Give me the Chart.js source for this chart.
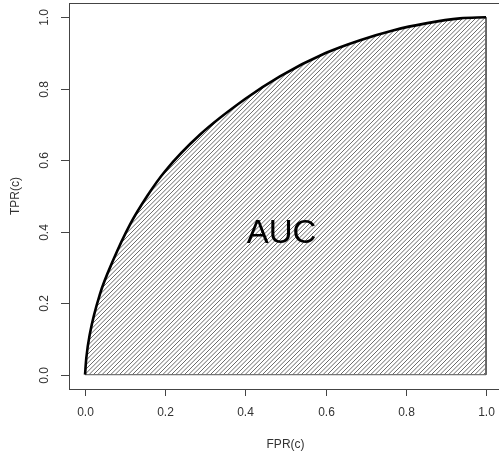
<!DOCTYPE html>
<html>
<head>
<meta charset="utf-8">
<script src="https://cdn.jsdelivr.net/npm/chart.js@4.4.1/dist/chart.umd.min.js"></script>
<style>
  body { margin: 0; background: #fff; }
  #wrap { width: 499px; height: 459px; }
</style>
</head>
<body>
<div id="wrap"><canvas id="myChart" width="499" height="459"></canvas></div>
<script>
// ROC curve, values
const fprValues = [0, 0.003, 0.0125, 0.037, 0.07, 0.112, 0.155, 0.2, 0.287, 0.4, 0.486, 0.6, 0.686, 0.77, 0.85, 0.935, 1];
const tprValues = [0, 0.045, 0.117, 0.225, 0.32, 0.42, 0.5, 0.57, 0.672, 0.772, 0.835, 0.9, 0.936, 0.964, 0.983, 0.997, 1];

// polygon edge that closes the shaded area
const borderX = [1, 1, 0];
const borderY = [1, 0, 0];

const xTicks = [0, 0.2, 0.4, 0.6, 0.8, 1];
const yTicks = [0, 0.2, 0.4, 0.6, 0.8, 1];
const tickLabels = ["0.0", "0.2", "0.4", "0.6", "0.8", "1.0"];

const FONT = '"Liberation Sans", Arial, sans-serif';

// diagonal hatching like R's density/angle polygon fill
function makeHatch() {
    const T = 13;
    const c = document.createElement('canvas');
    c.width = T;
    c.height = T;
    const g = c.getContext('2d');
    g.strokeStyle = '#6a6a6a';
    g.lineWidth = 1;
    for (let k = -2; k <= 8; k++) {
        const off = k * T / 3;
        g.beginPath();
        g.moveTo(off - T, T);
        g.lineTo(off + T, -T);
        g.stroke();
    }
    return g.createPattern(c, 'repeat');
}

// axes drawn R style: box, outside ticks, rotated y labels
const rAxes = {
    id: 'rAxes',
    afterDraw(chart) {
        const ctx = chart.ctx;
        const xs = chart.scales.x;
        const ys = chart.scales.y;
        const left = xs.getPixelForValue(-0.04);
        const right = xs.getPixelForValue(1.04);
        const top = ys.getPixelForValue(1.04);
        const bottom = ys.getPixelForValue(-0.04);

        ctx.save();
        ctx.strokeStyle = '#444';
        ctx.lineWidth = 1;
        ctx.strokeRect(Math.round(left) + 0.5, Math.round(top) + 0.5,
            Math.round(right - left), Math.round(bottom - top));

        ctx.fillStyle = '#333';
        ctx.font = '12px ' + FONT;
        ctx.textAlign = 'center';
        ctx.textBaseline = 'middle';

        xTicks.forEach((v, i) => {
            const px = Math.round(xs.getPixelForValue(v)) + 0.5;
            ctx.beginPath();
            ctx.moveTo(px, Math.round(bottom));
            ctx.lineTo(px, Math.round(bottom) + 7);
            ctx.stroke();
            ctx.fillText(tickLabels[i], px, bottom + 24);
        });

        yTicks.forEach((v, i) => {
            const py = Math.round(ys.getPixelForValue(v)) + 0.5;
            ctx.beginPath();
            ctx.moveTo(Math.round(left), py);
            ctx.lineTo(Math.round(left) - 8, py);
            ctx.stroke();
            ctx.save();
            ctx.translate(left - 24, py);
            ctx.rotate(-Math.PI / 2);
            ctx.fillText(tickLabels[i], 0, 0);
            ctx.restore();
        });

        ctx.fillText('FPR(c)', xs.getPixelForValue(0.5), 445);
        ctx.save();
        ctx.translate(16, (top + bottom) / 2);
        ctx.rotate(-Math.PI / 2);
        ctx.fillText('TPR(c)', 0, 0);
        ctx.restore();

        // label inside the shaded area
        ctx.fillStyle = '#000';
        ctx.font = '33px ' + FONT;
        ctx.fillText('AUC', xs.getPixelForValue(0.49), ys.getPixelForValue(0.395));
        ctx.restore();
    }
};

window.addEventListener("load", () => {
    const ctx = document.getElementById('myChart');
    new Chart(ctx, {
        type: 'scatter',
        data: {
            datasets: [{
                label: 'ROC',
                data: fprValues.map((x, i) => ({ x: x, y: tprValues[i] })),
                showLine: true,
                fill: 'origin',
                backgroundColor: makeHatch(),
                borderColor: '#000',
                borderWidth: 2.6,
                pointRadius: 0,
                cubicInterpolationMode: 'monotone'
            }, {
                label: 'border',
                data: borderX.map((x, i) => ({ x: x, y: borderY[i] })),
                showLine: true,
                fill: false,
                borderColor: '#555',
                borderWidth: 1,
                pointRadius: 0
            }]
        },
        options: {
            responsive: false,
            animation: false,
            layout: { padding: { left: 69, top: 3, right: 0, bottom: 70 } },
            scales: {
                x: { type: 'linear', min: -0.04, max: -0.04 + 430 / 401, display: false },
                y: { type: 'linear', min: -0.04, max: 1.04, display: false }
            },
            plugins: {
                legend: { display: false },
                tooltip: { enabled: false }
            }
        },
        plugins: [rAxes]
    });
});
</script>
</body>
</html>
